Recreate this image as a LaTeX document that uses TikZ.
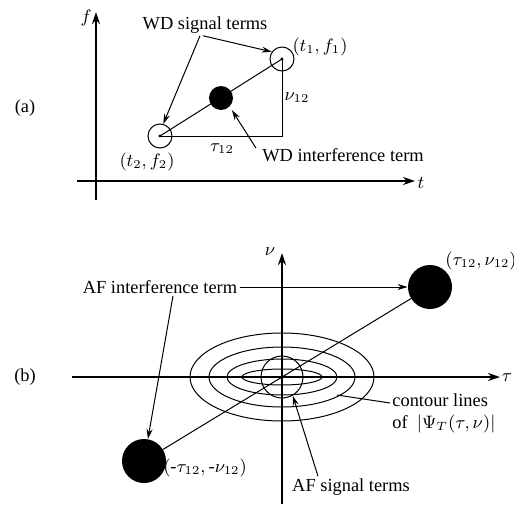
\documentclass[tikz,border=0pt]{standalone}
\usepackage{fontspec}
\setmainfont{Liberation Serif}
\usepackage{tikz}
\usetikzlibrary{arrows.meta, positioning, calc}

\begin{document}
\begin{tikzpicture}[x=0.5pt, y=-0.5pt,
  lbl/.style={font=\fontsize{9.2}{11}\selectfont, inner sep=1pt},
  ax/.style={line width=0.9pt, -{Stealth[length=6pt,width=4pt]}},
  arr/.style={line width=0.5pt, -{Stealth[length=5pt,width=3pt]}},
  hollowterm/.style={circle, draw, line width=0.5pt, inner sep=0pt},
  fullterm/.style={circle, fill, inner sep=0pt}]
\useasboundingbox (0,0) rectangle (514,504);

% (a) time-frequency plane
\draw[ax] (96,200) -- (96,12);
\draw[ax] (77,181) -- (415,181);
\node[lbl] (fl) at (86,18) {$f$};
\node[lbl] (tl) at (421,183) {$t$};
\node[lbl] (la) at (25,108) {(a)};

% Signal and interference terms
\node[hollowterm, minimum size=12pt] (s2) at (160,136) {};
\node[hollowterm, minimum size=12pt] (s1) at (282,59) {};
\node[fullterm, minimum size=12pt] (x12) at (221,98) {};
\draw[line width=0.5pt] (s2.center) -- (s1.center);
\draw[line width=0.4pt] (s2.center) -- (s2.center -| s1.center) -- (s1.center);
\fill (s1.center) circle (1.6);
\fill (s2.center) circle (1.6);

\node[lbl] (p2) at (147,162) {$(t_2,f_2)$};
\node[lbl] (p1) at (320,47) {$(t_1,f_1)$};
\node[lbl] (tau) at (222,149) {$\tau_{12}$};
\node[lbl] (nu) at (297,98) {$\nu_{12}$};
\node[lbl] (wds) at (205,25) {WD signal terms};
\node[lbl] (wdi) at (343,155) {WD interference term};

\draw[arr] ([xshift=-2.5pt]wds.south) -- (s2.75);
\draw[arr] ([xshift=-1pt]wds.south) -- (s1.145);
\draw[arr, shorten >=2pt] ([xshift=-2pt,yshift=-1pt]wdi.north west) -- (x12.-45);

% (b) ambiguity plane
\draw[ax] (282,504) -- (282,253);
\draw[ax] (72,377) -- (500,377);
\node[lbl] (nul) at (270,252) {$\nu$};
\node[lbl] (taul) at (507,378) {$\tau$};
\node[lbl] (lb) at (25,377) {(b)};

% Contours
\foreach \a/\b in {92/44, 73/30, 55/18, 40/8}
  \draw[line width=0.5pt] (282,377) ellipse [x radius=\a, y radius=\b];

\node[hollowterm, minimum size=21pt] (sg) at (282,377) {};
\node[fullterm, minimum size=22pt] (pp) at (430,287) {};
\node[fullterm, minimum size=22pt] (pm) at (144,461) {};
\draw[line width=0.5pt] (pm) -- (pp);

\node[lbl] (ppl) at (481,261) {$(\tau_{12},\nu_{12})$};
\node[lbl] (pml) at (205,468) {$(\mbox{-}\tau_{12},\mbox{-}\nu_{12})$};
\node[lbl] (afi) at (160,287) {AF interference term};
\node[lbl, align=left, anchor=west] (ctl) at (390,413) {contour lines\\of\ \ $|\Psi_T(\tau,\nu)|$};
\node[lbl] (afs) at (351,487) {AF signal terms};
\coordinate (ctp) at (337,395);

\draw[arr] (afi.east) -- (pp.west);
\draw[arr] ([xshift=6.5pt]afi.south) -- (pm.80);
\draw[line width=0.5pt] ([yshift=5pt]ctl.west) -- (ctp);
\draw[arr] ([xshift=-16.5pt]afs.north) -- (sg.-60);
\end{tikzpicture}
\end{document}
